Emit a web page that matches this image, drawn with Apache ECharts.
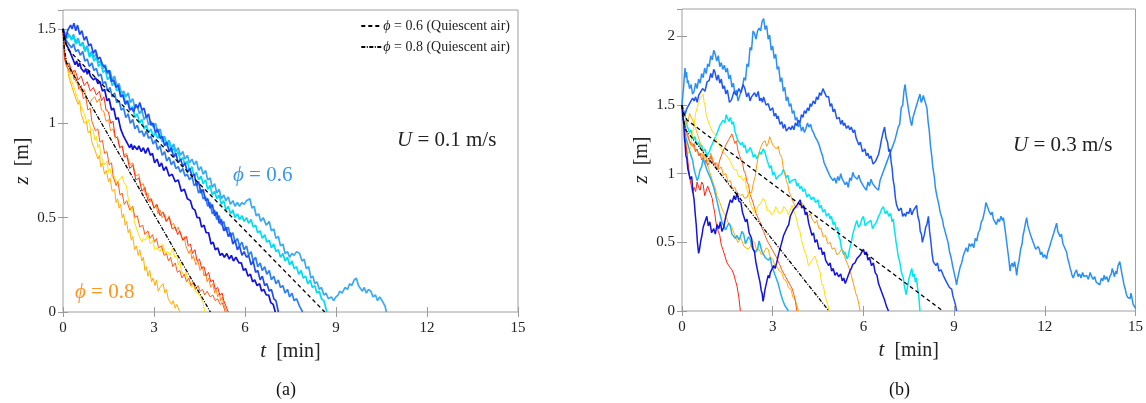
<!DOCTYPE html>
<html>
<head>
<meta charset="utf-8">
<script src="https://cdn.jsdelivr.net/npm/echarts@6/dist/echarts.min.js"></script>
<style>
  html, body { margin: 0; padding: 0; background: #fff; }
  #chart { width: 1146px; height: 403px; }
</style>
</head>
<body>
<div id="chart"></div>
<script>
// 坐标轴范围
const zMaxA = 1.6
const zMaxB = 2.2

// 静止空气中的下落轨迹 (两幅图共用)
const quiescent06 = [[0, 1.5], [0.06, 1.44], [0.17, 1.39], [8.63, 0]]
const quiescent08 = [[0, 1.5], [0.04, 1.4], [0.12, 1.32], [4.86, 0]]

// (a) U = 0.1 m/s, phi = 0.8
const aYellow = [[0, 1.5], [0.05, 1.36], [0.1, 1.33], [0.15, 1.31], [0.2, 1.26], [0.25, 1.27], [0.3, 1.22], [0.35, 1.23], [0.4, 1.17], [0.45, 1.18], [0.5, 1.12], [0.55, 1.13], [0.6, 1.09], [0.66, 1.1], [0.7, 1.05], [0.75, 1.06], [0.8, 1.0], [0.85, 1.02], [0.92, 0.96], [0.99, 0.97], [1.05, 0.91], [1.1, 0.93], [1.15, 0.87], [1.2, 0.89], [1.26, 0.82], [1.32, 0.83], [1.38, 0.78], [1.45, 0.8], [1.5, 0.74], [1.55, 0.76], [1.62, 0.71], [1.7, 0.72], [1.77, 0.68], [1.85, 0.7], [1.9, 0.69], [1.95, 0.72], [2.02, 0.68], [2.09, 0.67], [2.15, 0.6], [2.2, 0.59], [2.25, 0.53], [2.3, 0.55], [2.35, 0.48], [2.4, 0.49], [2.47, 0.42], [2.53, 0.41], [2.6, 0.37], [2.65, 0.39], [2.72, 0.38], [2.8, 0.41], [2.88, 0.36], [2.96, 0.38], [3.03, 0.33], [3.1, 0.34], [3.2, 0.32], [3.29, 0.36], [3.37, 0.31], [3.45, 0.32], [3.53, 0.3], [3.62, 0.34], [3.68, 0.29], [3.75, 0.3], [3.8, 0.25], [3.85, 0.27], [3.9, 0.22], [3.95, 0.23], [4.0, 0.19], [4.05, 0.21], [4.12, 0.16], [4.18, 0.17], [4.24, 0.13], [4.3, 0.15], [4.36, 0.11], [4.42, 0.12], [4.5, 0.09], [4.56, 0.1], [4.62, 0.05], [4.67, 0]]
const aGold = [[0, 1.5], [0.05, 1.35], [0.1, 1.31], [0.15, 1.29], [0.2, 1.24], [0.25, 1.25], [0.3, 1.19], [0.35, 1.2], [0.4, 1.14], [0.45, 1.15], [0.5, 1.1], [0.55, 1.12], [0.6, 1.05], [0.65, 1.06], [0.7, 1.0], [0.77, 1.01], [0.83, 0.95], [0.9, 0.96], [0.95, 0.9], [1.0, 0.91], [1.05, 0.86], [1.1, 0.87], [1.15, 0.81], [1.2, 0.83], [1.25, 0.77], [1.3, 0.79], [1.37, 0.73], [1.43, 0.75], [1.5, 0.69], [1.55, 0.71], [1.62, 0.64], [1.7, 0.65], [1.75, 0.58], [1.8, 0.6], [1.85, 0.55], [1.9, 0.57], [1.95, 0.5], [2.0, 0.52], [2.05, 0.46], [2.1, 0.48], [2.15, 0.42], [2.2, 0.44], [2.25, 0.38], [2.3, 0.4], [2.36, 0.33], [2.42, 0.35], [2.48, 0.3], [2.53, 0.33], [2.6, 0.27], [2.65, 0.29], [2.7, 0.22], [2.75, 0.24], [2.8, 0.19], [2.86, 0.22], [2.92, 0.16], [2.97, 0.18], [3.03, 0.14], [3.08, 0.17], [3.14, 0.11], [3.2, 0.13], [3.25, 0.12], [3.3, 0.15], [3.36, 0.1], [3.41, 0.12], [3.47, 0.07], [3.52, 0.08], [3.58, 0.04], [3.63, 0.06], [3.7, 0.02], [3.75, 0.04], [3.85, 0]]
const aOrange = [[0, 1.5], [0.05, 1.36], [0.12, 1.32], [0.2, 1.31], [0.27, 1.26], [0.35, 1.28], [0.42, 1.22], [0.5, 1.21], [0.6, 1.17], [0.7, 1.18], [0.8, 1.12], [0.9, 1.11], [0.97, 1.13], [1.05, 1.14], [1.12, 1.11], [1.2, 1.13], [1.27, 1.07], [1.35, 1.06], [1.42, 1.01], [1.5, 1.02], [1.57, 0.96], [1.65, 0.97], [1.72, 0.92], [1.8, 0.93], [1.87, 0.87], [1.95, 0.88], [2.02, 0.83], [2.1, 0.84], [2.2, 0.78], [2.3, 0.79], [2.4, 0.72], [2.5, 0.73], [2.57, 0.67], [2.65, 0.68], [2.72, 0.62], [2.8, 0.63], [2.86, 0.58], [2.92, 0.6], [3.0, 0.55], [3.07, 0.57], [3.13, 0.52], [3.2, 0.54], [3.27, 0.5], [3.35, 0.52], [3.42, 0.48], [3.5, 0.51], [3.58, 0.46], [3.65, 0.47], [3.72, 0.43], [3.8, 0.45], [3.85, 0.42], [3.9, 0.43], [3.95, 0.38], [4.0, 0.4], [4.05, 0.35], [4.1, 0.36], [4.15, 0.31], [4.2, 0.33], [4.25, 0.28], [4.3, 0.3], [4.38, 0.25], [4.45, 0.27], [4.52, 0.22], [4.6, 0.24], [4.65, 0.19], [4.7, 0.21], [4.75, 0.16], [4.8, 0.18], [4.87, 0.13], [4.94, 0.15], [5.0, 0.1], [5.05, 0.12], [5.1, 0.08], [5.15, 0.1], [5.2, 0.06], [5.25, 0.08], [5.3, 0.04], [5.35, 0.05], [5.4, 0]]
const aRedOrange = [[0, 1.5], [0.05, 1.34], [0.1, 1.31], [0.15, 1.32], [0.22, 1.27], [0.3, 1.28], [0.37, 1.23], [0.45, 1.24], [0.52, 1.18], [0.6, 1.2], [0.67, 1.13], [0.75, 1.14], [0.82, 1.07], [0.9, 1.08], [0.95, 1.01], [1.0, 1.02], [1.07, 0.96], [1.15, 0.97], [1.22, 0.9], [1.3, 0.91], [1.37, 0.84], [1.45, 0.85], [1.52, 0.78], [1.6, 0.79], [1.65, 0.72], [1.7, 0.73], [1.75, 0.67], [1.81, 0.69], [1.88, 0.62], [1.95, 0.63], [2.02, 0.57], [2.1, 0.59], [2.2, 0.54], [2.3, 0.56], [2.37, 0.5], [2.45, 0.51], [2.53, 0.45], [2.63, 0.46], [2.7, 0.41], [2.8, 0.43], [2.87, 0.39], [2.95, 0.41], [3.02, 0.37], [3.08, 0.39], [3.15, 0.34], [3.25, 0.35], [3.33, 0.3], [3.41, 0.31], [3.48, 0.27], [3.55, 0.29], [3.62, 0.24], [3.7, 0.26], [3.77, 0.21], [3.85, 0.22], [3.92, 0.18], [4.0, 0.2], [4.07, 0.16], [4.15, 0.18], [4.22, 0.14], [4.3, 0.16], [4.37, 0.12], [4.45, 0.14], [4.52, 0.11], [4.6, 0.12], [4.67, 0.09], [4.75, 0.11], [4.85, 0.08], [4.94, 0.09], [5.02, 0.06], [5.1, 0.07], [5.18, 0.04], [5.25, 0.05], [5.35, 0]]
const aRed = [[0, 1.5], [0.05, 1.35], [0.12, 1.31], [0.2, 1.32], [0.3, 1.27], [0.4, 1.28], [0.5, 1.23], [0.6, 1.25], [0.7, 1.2], [0.8, 1.22], [0.9, 1.17], [1.0, 1.19], [1.1, 1.15], [1.2, 1.17], [1.27, 1.12], [1.35, 1.14], [1.42, 1.07], [1.5, 1.06], [1.57, 1.0], [1.65, 1.01], [1.72, 0.93], [1.8, 0.92], [1.87, 0.87], [1.95, 0.88], [2.02, 0.82], [2.1, 0.83], [2.2, 0.76], [2.3, 0.78], [2.4, 0.7], [2.5, 0.71], [2.6, 0.64], [2.7, 0.66], [2.8, 0.59], [2.9, 0.6], [3.0, 0.55], [3.1, 0.57], [3.2, 0.51], [3.3, 0.53], [3.4, 0.48], [3.5, 0.5], [3.6, 0.44], [3.7, 0.45], [3.78, 0.41], [3.85, 0.43], [3.95, 0.38], [4.07, 0.4], [4.13, 0.35], [4.2, 0.36], [4.27, 0.31], [4.35, 0.33], [4.42, 0.27], [4.5, 0.28], [4.57, 0.23], [4.65, 0.24], [4.72, 0.19], [4.8, 0.21], [4.87, 0.16], [4.95, 0.17], [5.02, 0.12], [5.1, 0.13], [5.17, 0.09], [5.25, 0.1], [5.3, 0.06], [5.35, 0.07], [5.45, 0]]

// (a) U = 0.1 m/s, phi = 0.6
const aDeep = [[0, 1.5], [0.05, 1.46], [0.1, 1.42], [0.15, 1.43], [0.2, 1.39], [0.25, 1.4], [0.3, 1.35], [0.35, 1.36], [0.4, 1.31], [0.45, 1.33], [0.5, 1.3], [0.55, 1.32], [0.6, 1.29], [0.65, 1.3], [0.7, 1.27], [0.75, 1.29], [0.8, 1.26], [0.85, 1.28], [0.9, 1.25], [0.95, 1.26], [1.0, 1.23], [1.08, 1.24], [1.15, 1.21], [1.22, 1.22], [1.3, 1.17], [1.37, 1.18], [1.45, 1.12], [1.52, 1.13], [1.6, 1.07], [1.67, 1.08], [1.75, 1.02], [1.82, 1.03], [1.9, 0.97], [1.95, 0.98], [2.0, 0.93], [2.05, 0.94], [2.1, 0.9], [2.15, 0.91], [2.2, 0.87], [2.25, 0.89], [2.3, 0.86], [2.35, 0.88], [2.4, 0.89], [2.45, 0.86], [2.5, 0.88], [2.58, 0.85], [2.65, 0.87], [2.72, 0.84], [2.8, 0.87], [2.88, 0.83], [2.95, 0.84], [3.02, 0.79], [3.1, 0.81], [3.18, 0.77], [3.25, 0.79], [3.32, 0.75], [3.4, 0.77], [3.5, 0.72], [3.6, 0.73], [3.7, 0.69], [3.8, 0.7], [3.9, 0.64], [4.0, 0.65], [4.1, 0.6], [4.2, 0.59], [4.27, 0.55], [4.35, 0.54], [4.42, 0.5], [4.5, 0.5], [4.57, 0.45], [4.65, 0.46], [4.72, 0.42], [4.8, 0.42], [4.88, 0.36], [4.95, 0.37], [5.02, 0.33], [5.1, 0.34], [5.18, 0.3], [5.25, 0.31], [5.32, 0.29], [5.4, 0.31], [5.48, 0.28], [5.55, 0.3], [5.62, 0.27], [5.7, 0.29], [5.8, 0.26], [5.88, 0.26], [5.95, 0.22], [6.02, 0.23], [6.1, 0.19], [6.18, 0.2], [6.25, 0.16], [6.32, 0.17], [6.4, 0.14], [6.48, 0.15], [6.55, 0.11], [6.62, 0.12], [6.7, 0.09], [6.78, 0.09], [6.85, 0.05], [6.93, 0.04], [7.0, 0]]
const aRoyal = [[0, 1.5], [0.05, 1.47], [0.1, 1.45], [0.15, 1.49], [0.2, 1.48], [0.25, 1.52], [0.3, 1.5], [0.36, 1.53], [0.42, 1.49], [0.48, 1.52], [0.55, 1.47], [0.62, 1.49], [0.7, 1.44], [0.77, 1.46], [0.85, 1.41], [0.92, 1.42], [1.0, 1.37], [1.07, 1.39], [1.15, 1.34], [1.22, 1.35], [1.3, 1.31], [1.38, 1.3], [1.45, 1.27], [1.52, 1.28], [1.6, 1.22], [1.67, 1.23], [1.75, 1.19], [1.82, 1.2], [1.9, 1.14], [1.97, 1.15], [2.05, 1.1], [2.12, 1.12], [2.2, 1.07], [2.27, 1.08], [2.33, 1.06], [2.4, 1.1], [2.47, 1.08], [2.53, 1.11], [2.6, 1.07], [2.67, 1.08], [2.75, 1.03], [2.82, 1.05], [2.9, 0.99], [2.97, 1.0], [3.05, 0.95], [3.12, 0.97], [3.2, 0.92], [3.27, 0.93], [3.35, 0.88], [3.42, 0.9], [3.5, 0.85], [3.57, 0.87], [3.65, 0.82], [3.72, 0.84], [3.8, 0.79], [3.88, 0.81], [3.95, 0.77], [4.02, 0.79], [4.1, 0.74], [4.18, 0.76], [4.25, 0.72], [4.33, 0.73], [4.4, 0.67], [4.47, 0.69], [4.55, 0.63], [4.62, 0.65], [4.7, 0.59], [4.77, 0.6], [4.85, 0.55], [4.92, 0.57], [5.0, 0.51], [5.07, 0.53], [5.15, 0.47], [5.22, 0.49], [5.3, 0.43], [5.37, 0.45], [5.45, 0.4], [5.52, 0.42], [5.6, 0.36], [5.67, 0.38], [5.75, 0.33], [5.82, 0.35], [5.9, 0.3], [5.97, 0.32], [6.05, 0.29], [6.12, 0.3], [6.2, 0.25], [6.27, 0.27], [6.35, 0.21], [6.42, 0.22], [6.5, 0.17], [6.57, 0.19], [6.65, 0.14], [6.72, 0.15], [6.8, 0.11], [6.87, 0.12], [6.95, 0.07], [7.02, 0.06], [7.1, 0]]
const aMid = [[0, 1.5], [0.07, 1.45], [0.14, 1.43], [0.2, 1.44], [0.28, 1.4], [0.35, 1.42], [0.42, 1.38], [0.5, 1.39], [0.57, 1.36], [0.65, 1.38], [0.72, 1.33], [0.8, 1.34], [0.87, 1.3], [0.95, 1.32], [1.02, 1.28], [1.1, 1.29], [1.17, 1.25], [1.25, 1.26], [1.32, 1.21], [1.4, 1.22], [1.47, 1.17], [1.55, 1.19], [1.62, 1.14], [1.7, 1.16], [1.77, 1.11], [1.85, 1.12], [1.92, 1.07], [2.0, 1.08], [2.07, 1.03], [2.15, 1.05], [2.22, 1.0], [2.3, 1.02], [2.37, 0.97], [2.45, 0.99], [2.52, 0.95], [2.6, 0.96], [2.67, 0.93], [2.75, 0.96], [2.82, 0.92], [2.9, 0.93], [2.97, 0.89], [3.05, 0.91], [3.12, 0.86], [3.2, 0.88], [3.27, 0.83], [3.35, 0.85], [3.42, 0.8], [3.5, 0.82], [3.57, 0.78], [3.65, 0.8], [3.72, 0.76], [3.8, 0.77], [3.87, 0.74], [3.95, 0.76], [4.02, 0.72], [4.1, 0.73], [4.17, 0.7], [4.25, 0.72], [4.32, 0.67], [4.4, 0.68], [4.47, 0.63], [4.55, 0.65], [4.62, 0.6], [4.7, 0.61], [4.77, 0.56], [4.85, 0.58], [4.92, 0.52], [5.0, 0.54], [5.07, 0.49], [5.15, 0.51], [5.22, 0.46], [5.3, 0.48], [5.37, 0.43], [5.45, 0.45], [5.52, 0.4], [5.6, 0.42], [5.67, 0.37], [5.75, 0.39], [5.82, 0.35], [5.9, 0.37], [5.97, 0.33], [6.05, 0.35], [6.12, 0.3], [6.2, 0.32], [6.27, 0.27], [6.35, 0.29], [6.42, 0.24], [6.5, 0.26], [6.57, 0.22], [6.65, 0.24], [6.72, 0.2], [6.8, 0.22], [6.87, 0.17], [6.95, 0.19], [7.02, 0.15], [7.1, 0.17], [7.17, 0.13], [7.25, 0.14], [7.32, 0.1], [7.4, 0.12], [7.47, 0.08], [7.55, 0.1], [7.62, 0.06], [7.7, 0.07], [7.8, 0.03], [7.9, 0]]
const aCyan = [[0, 1.5], [0.07, 1.47], [0.14, 1.45], [0.2, 1.47], [0.28, 1.44], [0.35, 1.46], [0.42, 1.42], [0.5, 1.44], [0.57, 1.41], [0.65, 1.42], [0.72, 1.38], [0.8, 1.4], [0.87, 1.35], [0.95, 1.37], [1.02, 1.33], [1.1, 1.35], [1.17, 1.3], [1.25, 1.32], [1.32, 1.27], [1.4, 1.28], [1.47, 1.23], [1.55, 1.25], [1.62, 1.2], [1.7, 1.22], [1.77, 1.17], [1.85, 1.19], [1.92, 1.14], [2.0, 1.16], [2.07, 1.1], [2.15, 1.12], [2.22, 1.07], [2.3, 1.09], [2.37, 1.03], [2.45, 1.05], [2.52, 1.0], [2.6, 1.02], [2.67, 0.97], [2.75, 0.99], [2.82, 0.95], [2.9, 0.97], [2.97, 0.93], [3.05, 0.95], [3.12, 0.92], [3.2, 0.94], [3.27, 0.9], [3.35, 0.92], [3.42, 0.88], [3.5, 0.9], [3.57, 0.85], [3.65, 0.87], [3.72, 0.83], [3.8, 0.85], [3.87, 0.8], [3.95, 0.82], [4.02, 0.78], [4.1, 0.8], [4.17, 0.75], [4.25, 0.77], [4.32, 0.72], [4.4, 0.74], [4.47, 0.7], [4.55, 0.72], [4.62, 0.68], [4.7, 0.7], [4.77, 0.65], [4.85, 0.67], [4.92, 0.62], [5.0, 0.64], [5.07, 0.6], [5.15, 0.62], [5.22, 0.57], [5.3, 0.59], [5.37, 0.54], [5.45, 0.56], [5.52, 0.52], [5.6, 0.54], [5.67, 0.5], [5.75, 0.52], [5.82, 0.49], [5.9, 0.51], [5.97, 0.48], [6.05, 0.5], [6.12, 0.47], [6.2, 0.49], [6.27, 0.45], [6.35, 0.46], [6.42, 0.42], [6.5, 0.43], [6.57, 0.39], [6.65, 0.41], [6.72, 0.37], [6.8, 0.38], [6.87, 0.34], [6.95, 0.36], [7.02, 0.32], [7.1, 0.33], [7.17, 0.29], [7.25, 0.31], [7.32, 0.27], [7.4, 0.29], [7.47, 0.25], [7.55, 0.27], [7.62, 0.23], [7.7, 0.24], [7.77, 0.2], [7.85, 0.22], [7.92, 0.18], [8.0, 0.19], [8.07, 0.15], [8.15, 0.17], [8.22, 0.13], [8.3, 0.14], [8.37, 0.1], [8.45, 0.11], [8.52, 0.07], [8.6, 0.06], [8.7, 0]]
const aSky = [[0, 1.5], [0.07, 1.47], [0.14, 1.48], [0.2, 1.49], [0.28, 1.45], [0.35, 1.47], [0.42, 1.43], [0.5, 1.45], [0.57, 1.41], [0.65, 1.43], [0.72, 1.39], [0.8, 1.41], [0.87, 1.36], [0.95, 1.38], [1.02, 1.35], [1.1, 1.37], [1.17, 1.32], [1.25, 1.33], [1.32, 1.29], [1.4, 1.31], [1.47, 1.26], [1.55, 1.28], [1.62, 1.23], [1.7, 1.25], [1.77, 1.2], [1.85, 1.21], [1.92, 1.16], [2.0, 1.17], [2.07, 1.14], [2.15, 1.16], [2.22, 1.11], [2.3, 1.13], [2.37, 1.08], [2.45, 1.09], [2.52, 1.05], [2.6, 1.07], [2.67, 1.02], [2.75, 1.04], [2.82, 0.99], [2.9, 1.01], [2.97, 0.98], [3.05, 1.0], [3.12, 0.95], [3.2, 0.97], [3.27, 0.92], [3.35, 0.93], [3.42, 0.89], [3.5, 0.91], [3.57, 0.87], [3.65, 0.89], [3.72, 0.85], [3.8, 0.87], [3.87, 0.83], [3.95, 0.85], [4.02, 0.81], [4.1, 0.83], [4.17, 0.79], [4.25, 0.81], [4.32, 0.78], [4.4, 0.8], [4.47, 0.75], [4.55, 0.77], [4.62, 0.73], [4.7, 0.75], [4.77, 0.7], [4.85, 0.71], [4.92, 0.66], [5.0, 0.68], [5.07, 0.63], [5.15, 0.65], [5.22, 0.6], [5.3, 0.62], [5.37, 0.59], [5.45, 0.61], [5.52, 0.57], [5.6, 0.59], [5.67, 0.56], [5.75, 0.58], [5.82, 0.56], [5.9, 0.58], [5.97, 0.57], [6.05, 0.59], [6.16, 0.6], [6.23, 0.55], [6.3, 0.56], [6.37, 0.51], [6.45, 0.52], [6.52, 0.48], [6.6, 0.5], [6.7, 0.46], [6.8, 0.48], [6.87, 0.43], [6.95, 0.44], [7.02, 0.39], [7.1, 0.4], [7.17, 0.35], [7.25, 0.36], [7.32, 0.31], [7.4, 0.32], [7.47, 0.29], [7.55, 0.31], [7.62, 0.3], [7.7, 0.32], [7.8, 0.31], [7.88, 0.27], [7.95, 0.28], [8.02, 0.23], [8.1, 0.24], [8.17, 0.18], [8.24, 0.19], [8.3, 0.15], [8.37, 0.16], [8.45, 0.12], [8.52, 0.13], [8.6, 0.09], [8.67, 0.1], [8.75, 0.07], [8.85, 0.08], [8.92, 0.06], [9.0, 0.08], [9.07, 0.09], [9.12, 0.11], [9.2, 0.1], [9.3, 0.13], [9.38, 0.12], [9.45, 0.15], [9.52, 0.14], [9.6, 0.17], [9.67, 0.18], [9.74, 0.14], [9.8, 0.15], [9.87, 0.11], [9.93, 0.13], [10.0, 0.1], [10.07, 0.12], [10.15, 0.11], [10.22, 0.08], [10.3, 0.09], [10.37, 0.06], [10.44, 0.08], [10.52, 0.06], [10.58, 0.07], [10.62, 0.03], [10.66, 0]]

// (b) U = 0.3 m/s, phi = 0.8
const bRed = [[0, 1.5], [0.05, 1.38], [0.1, 1.26], [0.15, 1.18], [0.2, 1.08], [0.25, 0.98], [0.3, 0.92], [0.35, 0.86], [0.4, 0.9], [0.45, 0.87], [0.5, 0.94], [0.55, 0.9], [0.6, 0.88], [0.65, 0.94], [0.7, 0.92], [0.75, 0.84], [0.8, 0.85], [0.85, 0.91], [0.9, 0.9], [0.95, 0.85], [1.0, 0.82], [1.04, 0.76], [1.08, 0.72], [1.12, 0.65], [1.16, 0.61], [1.2, 0.58], [1.25, 0.55], [1.3, 0.48], [1.35, 0.45], [1.42, 0.4], [1.49, 0.35], [1.54, 0.36], [1.58, 0.32], [1.65, 0.3], [1.71, 0.27], [1.77, 0.22], [1.82, 0.18], [1.88, 0.1], [1.93, 0]]
const bOrangeRed = [[0, 1.5], [0.05, 1.4], [0.1, 1.36], [0.15, 1.31], [0.2, 1.3], [0.25, 1.24], [0.3, 1.25], [0.35, 1.2], [0.4, 1.22], [0.45, 1.16], [0.5, 1.18], [0.55, 1.13], [0.6, 1.15], [0.65, 1.1], [0.7, 1.12], [0.75, 1.07], [0.8, 1.1], [0.85, 1.06], [0.9, 1.08], [0.95, 1.13], [1.0, 1.12], [1.05, 1.06], [1.1, 1.08], [1.15, 1.03], [1.2, 1.05], [1.25, 1.1], [1.3, 1.1], [1.35, 1.16], [1.4, 1.15], [1.45, 1.21], [1.5, 1.2], [1.55, 1.25], [1.6, 1.24], [1.65, 1.29], [1.7, 1.28], [1.75, 1.22], [1.8, 1.24], [1.85, 1.17], [1.9, 1.18], [1.95, 1.1], [2.0, 1.08], [2.05, 1.02], [2.1, 1.0], [2.15, 0.94], [2.2, 0.92], [2.25, 0.85], [2.3, 0.85], [2.35, 0.79], [2.4, 0.78], [2.45, 0.71], [2.5, 0.7], [2.55, 0.66], [2.6, 0.64], [2.65, 0.6], [2.7, 0.58], [2.75, 0.55], [2.8, 0.52], [2.85, 0.5], [2.9, 0.48], [2.95, 0.46], [3.0, 0.44], [3.05, 0.43], [3.1, 0.4], [3.15, 0.38], [3.2, 0.35], [3.25, 0.33], [3.3, 0.3], [3.35, 0.29], [3.4, 0.26], [3.45, 0.25], [3.5, 0.22], [3.55, 0.21], [3.6, 0.18], [3.65, 0.16], [3.7, 0.12], [3.75, 0.07], [3.8, 0]]
const bGold = [[0, 1.5], [0.05, 1.44], [0.1, 1.42], [0.15, 1.36], [0.2, 1.38], [0.25, 1.44], [0.3, 1.45], [0.35, 1.39], [0.4, 1.4], [0.45, 1.33], [0.5, 1.32], [0.55, 1.26], [0.6, 1.25], [0.65, 1.19], [0.7, 1.18], [0.75, 1.11], [0.8, 1.1], [0.85, 1.06], [0.9, 1.05], [0.95, 0.99], [1.0, 0.98], [1.05, 0.92], [1.1, 0.9], [1.15, 0.84], [1.2, 0.82], [1.25, 0.79], [1.3, 0.78], [1.35, 0.73], [1.4, 0.72], [1.45, 0.69], [1.5, 0.68], [1.55, 0.63], [1.6, 0.62], [1.65, 0.61], [1.7, 0.6], [1.75, 0.55], [1.8, 0.55], [1.85, 0.5], [1.9, 0.5], [1.95, 0.53], [2.0, 0.52], [2.05, 0.47], [2.1, 0.48], [2.18, 0.45], [2.26, 0.47], [2.33, 0.51], [2.4, 0.5], [2.47, 0.44], [2.55, 0.45], [2.62, 0.41], [2.7, 0.42], [2.78, 0.46], [2.85, 0.45], [2.92, 0.39], [3.0, 0.38], [3.07, 0.33], [3.15, 0.32], [3.22, 0.29], [3.3, 0.28], [3.37, 0.23], [3.45, 0.22], [3.52, 0.17], [3.6, 0.16], [3.67, 0.1], [3.75, 0.08], [3.85, 0]]
const bOrange = [[0, 1.5], [0.05, 1.39], [0.1, 1.33], [0.15, 1.28], [0.2, 1.26], [0.28, 1.21], [0.35, 1.22], [0.42, 1.17], [0.5, 1.18], [0.57, 1.13], [0.65, 1.15], [0.7, 1.12], [0.76, 1.14], [0.83, 1.09], [0.9, 1.1], [0.95, 1.15], [1.0, 1.14], [1.07, 1.07], [1.15, 1.08], [1.22, 1.03], [1.3, 1.05], [1.37, 0.99], [1.45, 1.0], [1.52, 0.94], [1.6, 0.95], [1.67, 0.89], [1.75, 0.9], [1.8, 0.87], [1.86, 0.88], [1.93, 0.84], [2.0, 0.85], [2.07, 0.82], [2.15, 0.83], [2.22, 0.87], [2.3, 0.86], [2.36, 0.93], [2.42, 0.98], [2.47, 1.06], [2.52, 1.12], [2.57, 1.17], [2.62, 1.2], [2.68, 1.23], [2.75, 1.24], [2.8, 1.2], [2.85, 1.22], [2.9, 1.27], [2.95, 1.26], [3.0, 1.21], [3.05, 1.22], [3.12, 1.18], [3.18, 1.2], [3.24, 1.14], [3.3, 1.12], [3.35, 1.04], [3.4, 1.0], [3.45, 0.95], [3.5, 0.92], [3.54, 0.87], [3.58, 0.85], [3.64, 0.81], [3.7, 0.8], [3.77, 0.75], [3.85, 0.76], [3.92, 0.79], [4.0, 0.78], [4.07, 0.72], [4.13, 0.72], [4.18, 0.69], [4.24, 0.71], [4.3, 0.67], [4.35, 0.68], [4.4, 0.64], [4.46, 0.66], [4.53, 0.6], [4.6, 0.6], [4.67, 0.54], [4.75, 0.55], [4.82, 0.49], [4.9, 0.5], [4.97, 0.45], [5.05, 0.46], [5.12, 0.41], [5.2, 0.42], [5.27, 0.45], [5.34, 0.44], [5.4, 0.38], [5.45, 0.38], [5.5, 0.33], [5.56, 0.32], [5.6, 0.26], [5.65, 0.25], [5.68, 0.19], [5.72, 0.18], [5.76, 0.12], [5.8, 0.1], [5.85, 0.05], [5.89, 0]]
const bYellow = [[0, 1.5], [0.05, 1.4], [0.1, 1.35], [0.13, 1.25], [0.16, 1.2], [0.19, 1.14], [0.22, 1.13], [0.26, 1.18], [0.3, 1.2], [0.35, 1.3], [0.4, 1.35], [0.45, 1.44], [0.5, 1.48], [0.55, 1.52], [0.6, 1.55], [0.65, 1.54], [0.7, 1.58], [0.73, 1.52], [0.76, 1.5], [0.8, 1.43], [0.85, 1.42], [0.9, 1.36], [0.95, 1.35], [1.02, 1.3], [1.09, 1.29], [1.15, 1.24], [1.2, 1.24], [1.25, 1.2], [1.31, 1.21], [1.36, 1.16], [1.42, 1.17], [1.48, 1.13], [1.53, 1.14], [1.6, 1.09], [1.65, 1.1], [1.72, 1.03], [1.8, 1.03], [1.87, 0.98], [1.95, 0.98], [2.02, 0.95], [2.08, 0.97], [2.14, 0.89], [2.2, 0.85], [2.25, 0.79], [2.3, 0.78], [2.38, 0.72], [2.45, 0.72], [2.52, 0.77], [2.6, 0.78], [2.68, 0.82], [2.75, 0.8], [2.82, 0.73], [2.9, 0.73], [2.97, 0.7], [3.05, 0.72], [3.1, 0.76], [3.14, 0.75], [3.22, 0.71], [3.3, 0.72], [3.37, 0.76], [3.45, 0.74], [3.52, 0.7], [3.58, 0.71], [3.64, 0.77], [3.7, 0.78], [3.75, 0.7], [3.8, 0.66], [3.85, 0.6], [3.9, 0.58], [3.95, 0.52], [4.0, 0.51], [4.06, 0.43], [4.12, 0.4], [4.18, 0.33], [4.24, 0.32], [4.3, 0.37], [4.35, 0.36], [4.4, 0.4], [4.46, 0.39], [4.52, 0.31], [4.57, 0.28], [4.62, 0.2], [4.68, 0.18], [4.73, 0.11], [4.78, 0.1], [4.83, 0.04], [4.87, 0]]

// (b) U = 0.3 m/s, phi = 0.6
const bDeepSky = [[0, 1.5], [0.04, 1.4], [0.08, 1.35], [0.12, 1.27], [0.15, 1.28], [0.2, 1.21], [0.25, 1.22], [0.3, 1.13], [0.35, 1.1], [0.4, 1.03], [0.45, 1.02], [0.5, 0.95], [0.54, 0.97], [0.6, 1.03], [0.65, 1.05], [0.7, 1.11], [0.76, 1.1], [0.82, 1.03], [0.88, 1.04], [0.94, 0.97], [1.0, 0.98], [1.05, 0.9], [1.1, 0.9], [1.15, 0.81], [1.2, 0.8], [1.24, 0.72], [1.27, 0.71], [1.32, 0.65], [1.38, 0.66], [1.44, 0.59], [1.5, 0.6], [1.55, 0.64], [1.6, 0.62], [1.65, 0.56], [1.7, 0.57], [1.76, 0.53], [1.82, 0.55], [1.88, 0.52], [1.93, 0.54], [1.98, 0.58], [2.04, 0.56], [2.1, 0.49], [2.15, 0.5], [2.2, 0.54], [2.26, 0.52], [2.32, 0.46], [2.37, 0.47], [2.43, 0.43], [2.5, 0.45], [2.55, 0.51], [2.6, 0.5], [2.65, 0.43], [2.7, 0.44], [2.75, 0.39], [2.8, 0.4], [2.86, 0.37], [2.92, 0.39], [2.97, 0.33], [3.02, 0.33], [3.08, 0.26], [3.14, 0.27], [3.18, 0.2], [3.22, 0.2], [3.26, 0.13], [3.3, 0.14], [3.33, 0.08], [3.36, 0.08], [3.4, 0.04], [3.45, 0.05], [3.52, 0]]
const bDeep = [[0, 1.5], [0.03, 1.41], [0.06, 1.36], [0.08, 1.26], [0.1, 1.22], [0.13, 1.13], [0.16, 1.11], [0.19, 1.04], [0.22, 1.03], [0.27, 0.96], [0.32, 0.98], [0.36, 0.87], [0.4, 0.81], [0.44, 0.7], [0.47, 0.63], [0.51, 0.5], [0.55, 0.42], [0.58, 0.45], [0.62, 0.51], [0.66, 0.55], [0.7, 0.61], [0.76, 0.65], [0.82, 0.69], [0.87, 0.62], [0.92, 0.65], [0.98, 0.57], [1.05, 0.6], [1.1, 0.56], [1.16, 0.63], [1.22, 0.6], [1.27, 0.65], [1.32, 0.58], [1.38, 0.61], [1.44, 0.68], [1.5, 0.73], [1.55, 0.77], [1.6, 0.81], [1.66, 0.79], [1.72, 0.84], [1.77, 0.81], [1.82, 0.86], [1.88, 0.8], [1.95, 0.79], [2.0, 0.72], [2.04, 0.72], [2.1, 0.65], [2.15, 0.67], [2.22, 0.57], [2.3, 0.53], [2.35, 0.45], [2.4, 0.43], [2.44, 0.36], [2.48, 0.36], [2.53, 0.26], [2.58, 0.21], [2.62, 0.15], [2.65, 0.13], [2.68, 0.07], [2.7, 0.09], [2.74, 0.15], [2.78, 0.19], [2.82, 0.23], [2.85, 0.26], [2.89, 0.24], [2.92, 0.28], [2.98, 0.28], [3.03, 0.33], [3.08, 0.31], [3.14, 0.36], [3.2, 0.42], [3.25, 0.46], [3.3, 0.5], [3.36, 0.55], [3.42, 0.56], [3.48, 0.61], [3.53, 0.63], [3.58, 0.69], [3.63, 0.69], [3.69, 0.74], [3.75, 0.74], [3.8, 0.77], [3.86, 0.76], [3.91, 0.81], [3.96, 0.75], [4.02, 0.77], [4.08, 0.7], [4.13, 0.72], [4.19, 0.64], [4.25, 0.63], [4.3, 0.55], [4.35, 0.57], [4.4, 0.5], [4.46, 0.52], [4.53, 0.45], [4.6, 0.46], [4.65, 0.41], [4.7, 0.43], [4.75, 0.37], [4.79, 0.38], [4.85, 0.33], [4.9, 0.35], [4.95, 0.29], [5.0, 0.31], [5.06, 0.26], [5.12, 0.28], [5.18, 0.25], [5.25, 0.27], [5.3, 0.22], [5.35, 0.24], [5.4, 0.2], [5.45, 0.23], [5.5, 0.26], [5.55, 0.29], [5.6, 0.31], [5.65, 0.34], [5.72, 0.35], [5.78, 0.38], [5.84, 0.37], [5.9, 0.41], [5.95, 0.42], [6.0, 0.45], [6.05, 0.41], [6.1, 0.43], [6.15, 0.37], [6.2, 0.39], [6.27, 0.33], [6.33, 0.35], [6.39, 0.28], [6.45, 0.26], [6.5, 0.2], [6.55, 0.19], [6.6, 0.14], [6.65, 0.13], [6.7, 0.08], [6.74, 0.07], [6.77, 0.03], [6.83, 0]]
const bCyan = [[0, 1.5], [0.05, 1.45], [0.1, 1.43], [0.15, 1.36], [0.2, 1.37], [0.25, 1.3], [0.3, 1.32], [0.37, 1.25], [0.43, 1.27], [0.49, 1.21], [0.55, 1.23], [0.6, 1.19], [0.65, 1.21], [0.7, 1.16], [0.76, 1.18], [0.83, 1.13], [0.9, 1.16], [0.95, 1.19], [1.0, 1.18], [1.05, 1.24], [1.1, 1.23], [1.15, 1.29], [1.2, 1.28], [1.25, 1.35], [1.3, 1.34], [1.36, 1.39], [1.42, 1.37], [1.46, 1.43], [1.5, 1.42], [1.55, 1.38], [1.6, 1.41], [1.65, 1.36], [1.7, 1.38], [1.75, 1.31], [1.8, 1.3], [1.85, 1.24], [1.9, 1.25], [1.95, 1.21], [2.0, 1.23], [2.04, 1.19], [2.08, 1.21], [2.14, 1.15], [2.2, 1.17], [2.25, 1.19], [2.3, 1.17], [2.36, 1.12], [2.42, 1.14], [2.47, 1.11], [2.52, 1.13], [2.57, 1.16], [2.62, 1.14], [2.68, 1.18], [2.74, 1.16], [2.8, 1.11], [2.85, 1.11], [2.9, 1.04], [2.95, 1.06], [3.0, 0.99], [3.05, 1.01], [3.12, 0.96], [3.18, 0.98], [3.24, 0.98], [3.3, 1.0], [3.35, 1.03], [3.4, 1.01], [3.45, 0.97], [3.5, 0.99], [3.56, 0.93], [3.62, 0.95], [3.68, 0.94], [3.75, 0.96], [3.8, 0.91], [3.84, 0.93], [3.9, 0.89], [3.95, 0.91], [4.0, 0.87], [4.06, 0.89], [4.13, 0.83], [4.2, 0.85], [4.28, 0.81], [4.35, 0.83], [4.42, 0.79], [4.5, 0.81], [4.55, 0.75], [4.6, 0.77], [4.66, 0.72], [4.72, 0.74], [4.78, 0.69], [4.85, 0.71], [4.9, 0.67], [4.94, 0.69], [5.0, 0.63], [5.05, 0.65], [5.1, 0.59], [5.15, 0.61], [5.19, 0.54], [5.23, 0.52], [5.27, 0.46], [5.3, 0.46], [5.35, 0.41], [5.4, 0.43], [5.45, 0.38], [5.5, 0.4], [5.53, 0.44], [5.56, 0.43], [5.6, 0.5], [5.65, 0.56], [5.7, 0.6], [5.78, 0.66], [5.84, 0.61], [5.9, 0.63], [5.95, 0.67], [6.0, 0.69], [6.06, 0.62], [6.12, 0.64], [6.18, 0.64], [6.25, 0.66], [6.3, 0.6], [6.35, 0.62], [6.4, 0.63], [6.44, 0.65], [6.5, 0.69], [6.55, 0.71], [6.6, 0.74], [6.66, 0.76], [6.72, 0.71], [6.78, 0.73], [6.84, 0.69], [6.9, 0.71], [6.95, 0.65], [6.99, 0.67], [7.02, 0.6], [7.05, 0.56], [7.08, 0.5], [7.1, 0.48], [7.15, 0.4], [7.2, 0.36], [7.26, 0.28], [7.32, 0.24], [7.35, 0.19], [7.38, 0.18], [7.41, 0.12], [7.43, 0.14], [7.47, 0.19], [7.5, 0.23], [7.55, 0.27], [7.6, 0.31], [7.64, 0.25], [7.68, 0.27], [7.72, 0.21], [7.76, 0.24], [7.79, 0.17], [7.82, 0.13], [7.85, 0.06], [7.87, 0]]
const bRoyal = [[0, 1.5], [0.05, 1.46], [0.1, 1.43], [0.15, 1.47], [0.2, 1.46], [0.25, 1.51], [0.3, 1.5], [0.35, 1.55], [0.4, 1.53], [0.45, 1.56], [0.5, 1.52], [0.55, 1.57], [0.6, 1.56], [0.68, 1.62], [0.76, 1.6], [0.83, 1.67], [0.9, 1.68], [0.95, 1.73], [1.0, 1.7], [1.05, 1.76], [1.09, 1.74], [1.15, 1.68], [1.2, 1.72], [1.25, 1.66], [1.3, 1.69], [1.35, 1.62], [1.4, 1.64], [1.45, 1.58], [1.5, 1.61], [1.57, 1.52], [1.64, 1.54], [1.72, 1.6], [1.8, 1.57], [1.88, 1.62], [1.95, 1.59], [2.02, 1.65], [2.08, 1.62], [2.14, 1.56], [2.2, 1.59], [2.25, 1.53], [2.3, 1.56], [2.35, 1.55], [2.4, 1.59], [2.46, 1.56], [2.52, 1.6], [2.57, 1.53], [2.62, 1.55], [2.66, 1.52], [2.7, 1.56], [2.78, 1.5], [2.85, 1.51], [2.92, 1.46], [3.0, 1.48], [3.05, 1.42], [3.1, 1.44], [3.14, 1.4], [3.18, 1.42], [3.24, 1.36], [3.3, 1.38], [3.35, 1.33], [3.4, 1.36], [3.45, 1.31], [3.51, 1.3], [3.55, 1.34], [3.6, 1.32], [3.65, 1.35], [3.7, 1.32], [3.75, 1.37], [3.8, 1.35], [3.85, 1.39], [3.9, 1.37], [3.95, 1.43], [4.0, 1.41], [4.05, 1.46], [4.1, 1.44], [4.15, 1.48], [4.2, 1.46], [4.24, 1.51], [4.28, 1.49], [4.34, 1.53], [4.4, 1.51], [4.45, 1.56], [4.5, 1.54], [4.55, 1.59], [4.6, 1.57], [4.66, 1.62], [4.72, 1.63], [4.78, 1.56], [4.85, 1.56], [4.9, 1.49], [4.95, 1.51], [5.0, 1.45], [5.05, 1.47], [5.12, 1.4], [5.2, 1.41], [5.25, 1.36], [5.3, 1.39], [5.34, 1.35], [5.38, 1.37], [5.44, 1.33], [5.5, 1.35], [5.55, 1.32], [5.6, 1.34], [5.66, 1.3], [5.71, 1.32], [5.76, 1.26], [5.8, 1.27], [5.85, 1.21], [5.9, 1.23], [5.97, 1.16], [6.05, 1.18], [6.1, 1.13], [6.15, 1.15], [6.2, 1.11], [6.25, 1.13], [6.32, 1.07], [6.4, 1.09], [6.45, 1.09], [6.5, 1.14], [6.55, 1.19], [6.6, 1.25], [6.65, 1.3], [6.7, 1.34], [6.75, 1.26], [6.8, 1.23], [6.84, 1.16], [6.88, 1.18], [6.92, 1.08], [6.95, 1.04], [6.98, 0.96], [7.02, 0.91], [7.06, 0.82], [7.1, 0.77], [7.17, 0.73], [7.25, 0.75], [7.3, 0.69], [7.35, 0.71], [7.4, 0.69], [7.43, 0.72], [7.5, 0.71], [7.55, 0.75], [7.6, 0.7], [7.65, 0.73], [7.7, 0.72], [7.76, 0.77], [7.8, 0.69], [7.85, 0.65], [7.88, 0.58], [7.92, 0.56], [7.95, 0.5], [7.98, 0.49], [8.02, 0.56], [8.06, 0.61], [8.1, 0.63], [8.15, 0.69], [8.19, 0.58], [8.23, 0.51], [8.27, 0.42], [8.31, 0.36], [8.35, 0.37], [8.4, 0.33], [8.45, 0.35], [8.5, 0.29], [8.57, 0.3], [8.64, 0.26], [8.7, 0.27], [8.75, 0.21], [8.8, 0.22], [8.85, 0.17], [8.92, 0.16], [8.96, 0.11], [9.0, 0.1], [9.04, 0.05], [9.08, 0]]
const bSky = [[0, 1.5], [0.03, 1.58], [0.05, 1.62], [0.08, 1.72], [0.1, 1.77], [0.13, 1.7], [0.15, 1.74], [0.18, 1.66], [0.2, 1.68], [0.25, 1.62], [0.3, 1.65], [0.35, 1.58], [0.4, 1.6], [0.45, 1.66], [0.5, 1.62], [0.55, 1.69], [0.6, 1.66], [0.65, 1.73], [0.7, 1.7], [0.75, 1.77], [0.8, 1.73], [0.85, 1.8], [0.9, 1.78], [0.95, 1.86], [1.0, 1.83], [1.05, 1.9], [1.1, 1.87], [1.15, 1.82], [1.2, 1.86], [1.25, 1.78], [1.3, 1.81], [1.35, 1.76], [1.4, 1.79], [1.45, 1.74], [1.5, 1.77], [1.55, 1.69], [1.6, 1.72], [1.65, 1.63], [1.7, 1.66], [1.75, 1.58], [1.8, 1.61], [1.85, 1.53], [1.9, 1.56], [1.95, 1.6], [2.0, 1.63], [2.05, 1.7], [2.1, 1.68], [2.15, 1.8], [2.2, 1.78], [2.25, 1.92], [2.3, 1.9], [2.35, 2.04], [2.4, 2.02], [2.45, 1.98], [2.5, 2.04], [2.55, 2.06], [2.6, 2.04], [2.65, 2.11], [2.7, 2.13], [2.75, 2.05], [2.8, 2.08], [2.85, 1.98], [2.9, 2.01], [2.95, 1.9], [3.0, 1.93], [3.05, 1.84], [3.1, 1.87], [3.15, 1.76], [3.2, 1.78], [3.25, 1.67], [3.3, 1.7], [3.35, 1.6], [3.4, 1.63], [3.45, 1.53], [3.5, 1.56], [3.55, 1.49], [3.6, 1.51], [3.65, 1.44], [3.7, 1.46], [3.75, 1.39], [3.8, 1.41], [3.85, 1.34], [3.9, 1.37], [3.95, 1.31], [4.0, 1.34], [4.05, 1.3], [4.1, 1.33], [4.15, 1.37], [4.2, 1.34], [4.25, 1.36], [4.3, 1.32], [4.35, 1.3], [4.4, 1.27], [4.45, 1.26], [4.5, 1.23], [4.55, 1.2], [4.6, 1.16], [4.65, 1.13], [4.7, 1.08], [4.75, 1.07], [4.8, 1.03], [4.85, 1.03], [4.9, 0.98], [4.95, 0.99], [5.0, 0.95], [5.05, 0.97], [5.1, 0.93], [5.15, 0.98], [5.2, 0.95], [5.25, 1.0], [5.3, 0.96], [5.35, 0.95], [5.4, 0.92], [5.45, 0.94], [5.5, 0.9], [5.55, 0.97], [5.6, 0.95], [5.65, 1.01], [5.7, 0.98], [5.75, 0.99], [5.8, 0.96], [5.85, 0.99], [5.9, 0.95], [5.95, 0.94], [6.0, 0.91], [6.05, 0.92], [6.1, 0.88], [6.15, 0.94], [6.2, 0.91], [6.25, 0.96], [6.3, 0.93], [6.35, 0.93], [6.4, 0.9], [6.45, 0.91], [6.5, 0.88], [6.55, 0.95], [6.6, 0.94], [6.65, 1.01], [6.7, 1.0], [6.75, 1.07], [6.8, 1.06], [6.85, 1.13], [6.9, 1.12], [6.95, 1.19], [7.0, 1.18], [7.05, 1.25], [7.1, 1.24], [7.15, 1.34], [7.2, 1.36], [7.25, 1.48], [7.3, 1.5], [7.34, 1.6], [7.38, 1.65], [7.42, 1.57], [7.45, 1.53], [7.49, 1.47], [7.52, 1.43], [7.56, 1.38], [7.6, 1.35], [7.64, 1.41], [7.68, 1.4], [7.72, 1.47], [7.75, 1.46], [7.8, 1.53], [7.87, 1.58], [7.91, 1.52], [7.95, 1.54], [7.98, 1.57], [8.02, 1.54], [8.06, 1.51], [8.1, 1.48], [8.14, 1.38], [8.18, 1.31], [8.22, 1.2], [8.26, 1.13], [8.3, 1.04], [8.35, 0.97], [8.38, 0.9], [8.42, 0.85], [8.46, 0.81], [8.5, 0.77], [8.54, 0.72], [8.58, 0.69], [8.62, 0.66], [8.65, 0.62], [8.7, 0.58], [8.75, 0.54], [8.8, 0.5], [8.85, 0.43], [8.9, 0.39], [8.95, 0.33], [8.98, 0.3], [9.02, 0.26], [9.05, 0.23], [9.08, 0.19], [9.12, 0.24], [9.15, 0.25], [9.2, 0.32], [9.25, 0.35], [9.3, 0.4], [9.35, 0.41], [9.4, 0.46], [9.45, 0.43], [9.5, 0.49], [9.55, 0.47], [9.6, 0.49], [9.65, 0.46], [9.7, 0.53], [9.75, 0.51], [9.8, 0.57], [9.85, 0.59], [9.9, 0.65], [9.95, 0.67], [10.0, 0.72], [10.02, 0.74], [10.05, 0.79], [10.08, 0.8], [10.12, 0.75], [10.15, 0.73], [10.2, 0.74], [10.22, 0.7], [10.26, 0.72], [10.3, 0.67], [10.35, 0.66], [10.4, 0.63], [10.45, 0.67], [10.5, 0.65], [10.55, 0.69], [10.6, 0.66], [10.63, 0.68], [10.67, 0.62], [10.7, 0.57], [10.74, 0.5], [10.78, 0.43], [10.82, 0.36], [10.85, 0.29], [10.88, 0.33], [10.92, 0.35], [10.96, 0.32], [11.0, 0.36], [11.04, 0.31], [11.07, 0.26], [11.11, 0.33], [11.15, 0.37], [11.2, 0.45], [11.25, 0.49], [11.28, 0.55], [11.32, 0.59], [11.36, 0.64], [11.4, 0.68], [11.44, 0.62], [11.48, 0.61], [11.52, 0.56], [11.55, 0.57], [11.6, 0.51], [11.65, 0.52], [11.7, 0.45], [11.73, 0.44], [11.78, 0.47], [11.82, 0.45], [11.86, 0.41], [11.9, 0.43], [11.95, 0.39], [12.0, 0.41], [12.06, 0.38], [12.1, 0.43], [12.15, 0.46], [12.2, 0.5], [12.25, 0.51], [12.3, 0.57], [12.34, 0.58], [12.39, 0.64], [12.43, 0.58], [12.47, 0.59], [12.51, 0.54], [12.55, 0.56], [12.6, 0.49], [12.63, 0.48], [12.68, 0.45], [12.72, 0.43], [12.76, 0.38], [12.8, 0.35], [12.84, 0.31], [12.87, 0.29], [12.9, 0.26], [12.94, 0.24], [13.0, 0.28], [13.05, 0.3], [13.1, 0.25], [13.15, 0.27], [13.2, 0.24], [13.25, 0.28], [13.3, 0.25], [13.38, 0.26], [13.44, 0.23], [13.5, 0.28], [13.55, 0.25], [13.6, 0.23], [13.65, 0.25], [13.7, 0.21], [13.76, 0.22], [13.82, 0.19], [13.87, 0.24], [13.92, 0.22], [13.96, 0.26], [14.0, 0.23], [14.05, 0.25], [14.1, 0.21], [14.15, 0.25], [14.2, 0.27], [14.23, 0.31], [14.26, 0.29], [14.3, 0.25], [14.35, 0.29], [14.38, 0.27], [14.42, 0.33], [14.45, 0.32], [14.48, 0.36], [14.52, 0.31], [14.55, 0.27], [14.58, 0.24], [14.62, 0.19], [14.66, 0.16], [14.7, 0.12], [14.74, 0.1], [14.78, 0.11], [14.82, 0.09], [14.85, 0.13], [14.88, 0.1], [14.92, 0.05], [14.96, 0.04], [15.0, 0.02]]

const serif = 'Liberation Serif'
const inkColor = '#222'
const chartInstance = echarts.init(document.getElementById('chart'))

// 生成一条轨迹的 series
function track (data, color, width, gi) {
  return {
    type: 'line',
    xAxisIndex: gi * 2,
    yAxisIndex: gi * 2,
    data: data,
    showSymbol: false,
    symbol: 'none',
    silent: true,
    lineStyle: { color: color, width: width },
    z: 2
  }
}

// 静止空气参考线 (黑色虚线 / 点划线)
function refLine (name, data, type, gi) {
  return {
    name: name,
    type: 'line',
    xAxisIndex: gi * 2,
    yAxisIndex: gi * 2,
    data: data,
    symbol: 'none',
    silent: true,
    itemStyle: { color: '#000', opacity: 0 },
    lineStyle: { color: '#000', width: 1.3, type: type },
    z: 5
  }
}

// 坐标轴: 每个子图 下/上 两条 x 轴, 左/右 两条 y 轴 (仿 MATLAB 的 box on)
function axisName (text) {
  return {
    name: text,
    nameLocation: 'middle',
    nameTextStyle: {
      color: inkColor,
      fontFamily: serif,
      fontSize: 20,
      rich: { i: { fontFamily: serif, fontSize: 21, fontStyle: 'italic', color: inkColor } }
    }
  }
}

function xAxes (gi) {
  const base = {
    type: 'value',
    gridIndex: gi,
    min: 0,
    max: 15,
    interval: 3,
    splitLine: { show: false },
    axisLine: { show: false },
    axisTick: { inside: true, length: 5, lineStyle: { color: '#9a9a9a' } }
  }
  return [
    Object.assign({}, base, axisName('{i|t}  [min]'), {
      position: 'bottom',
      nameGap: 27,
      axisLabel: { color: inkColor, fontFamily: serif, fontSize: 15, margin: 9 }
    }),
    Object.assign({}, base, { position: 'top', axisLabel: { show: false } })
  ]
}

function yAxes (gi, max) {
  const base = {
    type: 'value',
    gridIndex: gi,
    min: 0,
    max: max,
    interval: 0.5,
    splitLine: { show: false },
    axisLine: { show: false },
    axisTick: { inside: true, length: 5, lineStyle: { color: '#9a9a9a' } }
  }
  return [
    Object.assign({}, base, axisName('{i|z}  [m]'), {
      position: 'left',
      nameGap: 26,
      axisLabel: { color: inkColor, fontFamily: serif, fontSize: 15, margin: 7, showMaxLabel: false }
    }),
    Object.assign({}, base, { position: 'right', axisLabel: { show: false } })
  ]
}

function label (text, x, y, color, size) {
  return {
    type: 'text',
    left: x,
    top: y,
    silent: true,
    style: {
      text: text,
      fill: color,
      font: size + 'px ' + serif,
      rich: { i: { fontStyle: 'italic', fontSize: size, fontFamily: serif, fill: color } }
    }
  }
}

const option = {
  animation: false,
  backgroundColor: '#fff',
  grid: [
    { left: 63, top: 10, width: 455, height: 302, show: true, borderColor: '#a0a0a0', borderWidth: 1 },
    { left: 682, top: 9, width: 454, height: 302, show: true, borderColor: '#a0a0a0', borderWidth: 1 }
  ],
  xAxis: xAxes(0).concat(xAxes(1)),
  yAxis: yAxes(0, zMaxA).concat(yAxes(1, zMaxB)),
  legend: {
    data: ['q06', 'q08'],
    orient: 'vertical',
    right: 636,
    top: 19,
    itemWidth: 20,
    itemHeight: 12,
    itemGap: 7,
    padding: 0,
    itemStyle: { opacity: 0 },
    formatter: function (name) {
      return name === 'q06' ? '{i|ϕ} = 0.6 (Quiescent air)' : '{i|ϕ} = 0.8 (Quiescent air)'
    },
    textStyle: {
      color: inkColor,
      fontFamily: serif,
      fontSize: 14,
      padding: [0, 0, 0, -3],
      rich: { i: { fontFamily: serif, fontSize: 14, fontStyle: 'italic', color: inkColor } }
    }
  },
  graphic: [
    label('{i|U} = 0.1 m/s', 397, 130, inkColor, 21),
    label('{i|ϕ} = 0.6', 233, 165, '#3797f0', 21),
    label('{i|ϕ} = 0.8', 75, 282, '#ff9420', 21),
    label('{i|U} = 0.3 m/s', 1013, 135, inkColor, 21),
    label('(a)', 276, 381, '#111', 18),
    label('(b)', 889, 381, '#111', 18)
  ],
  series: [
    // (a)
    track(aGold, '#ffad00', 1, 0),
    track(aYellow, '#ffe100', 1, 0),
    track(aRedOrange, '#ff5a1e', 1, 0),
    track(aOrange, '#ff8a1c', 1, 0),
    track(aRed, '#ff2a12', 1, 0),
    track(aSky, '#3aaaf2', 1.7, 0),
    track(aCyan, '#00dcf2', 1.7, 0),
    track(aMid, '#2b7ff0', 1.7, 0),
    track(aRoyal, '#1f4cf2', 1.7, 0),
    track(aDeep, '#1212dc', 1.7, 0),
    refLine('q06', quiescent06, [4, 3], 0),
    refLine('q08', quiescent08, [4, 1.5, 1, 1.5], 0),
    // (b)
    track(bSky, '#2b90f5', 1.5, 1),
    track(bRoyal, '#1f55f5', 1.5, 1),
    track(bCyan, '#00e6f5', 1.5, 1),
    track(bGold, '#ffb000', 1, 1),
    track(bOrange, '#ff9a10', 1, 1),
    track(bYellow, '#ffe000', 1, 1),
    track(bOrangeRed, '#ff5a14', 1, 1),
    track(bRed, '#ff2410', 1, 1),
    track(bDeepSky, '#25b0f0', 1.5, 1),
    track(bDeep, '#1414e0', 1.5, 1),
    refLine('q06b', quiescent06, [4, 3], 1),
    refLine('q08b', quiescent08, [4, 1.5, 1, 1.5], 1)
  ]
}

chartInstance.setOption(option)
</script>
</body>
</html>
